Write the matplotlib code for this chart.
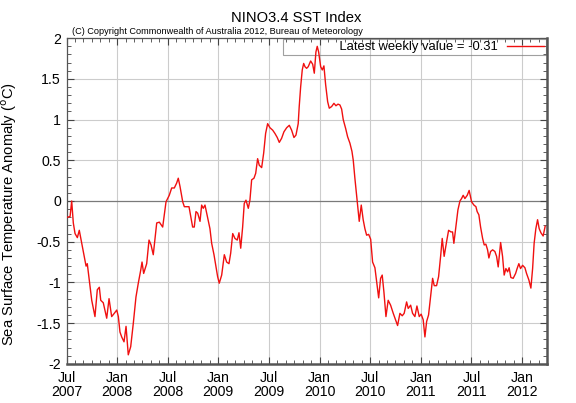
import matplotlib
matplotlib.use("Agg")
import matplotlib.pyplot as plt
from matplotlib.ticker import MultipleLocator, FixedLocator, FuncFormatter

plt.rcParams['font.family'] = ['Liberation Sans', 'DejaVu Sans']
plt.rcParams['axes.unicode_minus'] = False

# Time (decimal years) and weekly NINO3.4 SST anomaly (deg C)
t_year = [
    2007.508, 2007.535, 2007.551, 2007.567, 2007.584, 2007.607, 2007.626, 2007.650,
    2007.673, 2007.693, 2007.705, 2007.725, 2007.749, 2007.781, 2007.804, 2007.824,
    2007.838, 2007.863, 2007.897, 2007.920, 2007.946, 2007.972, 2007.996, 2008.012,
    2008.028, 2008.045, 2008.068, 2008.088, 2008.110, 2008.134, 2008.160, 2008.186,
    2008.209, 2008.233, 2008.246, 2008.262, 2008.292, 2008.315, 2008.335, 2008.357,
    2008.391, 2008.417, 2008.450, 2008.483, 2008.515, 2008.539, 2008.565, 2008.588,
    2008.604, 2008.621, 2008.648, 2008.664, 2008.687, 2008.710, 2008.727, 2008.746,
    2008.762, 2008.779, 2008.796, 2008.819, 2008.835, 2008.851, 2008.868, 2008.885,
    2008.917, 2008.934, 2008.957, 2008.977, 2008.993, 2009.009, 2009.033, 2009.059,
    2009.082, 2009.105, 2009.122, 2009.142, 2009.164, 2009.187, 2009.204, 2009.221,
    2009.240, 2009.256, 2009.273, 2009.296, 2009.312, 2009.329, 2009.352, 2009.369,
    2009.388, 2009.404, 2009.428, 2009.448, 2009.467, 2009.487, 2009.510, 2009.537,
    2009.559, 2009.582, 2009.602, 2009.625, 2009.648, 2009.675, 2009.701, 2009.724,
    2009.747, 2009.767, 2009.789, 2009.799, 2009.813, 2009.829, 2009.843, 2009.856,
    2009.872, 2009.888, 2009.912, 2009.932, 2009.948, 2009.964, 2009.977, 2009.991,
    2010.011, 2010.027, 2010.043, 2010.060, 2010.080, 2010.096, 2010.119, 2010.142,
    2010.162, 2010.182, 2010.201, 2010.218, 2010.234, 2010.258, 2010.277, 2010.300,
    2010.320, 2010.333, 2010.349, 2010.366, 2010.382, 2010.392, 2010.412, 2010.431,
    2010.448, 2010.465, 2010.485, 2010.505, 2010.524, 2010.547, 2010.564, 2010.584,
    2010.603, 2010.619, 2010.636, 2010.656, 2010.678, 2010.702, 2010.728, 2010.751,
    2010.771, 2010.794, 2010.817, 2010.836, 2010.860, 2010.876, 2010.900, 2010.919,
    2010.942, 2010.962, 2010.985, 2011.004, 2011.024, 2011.041, 2011.058, 2011.077,
    2011.097, 2011.117, 2011.133, 2011.156, 2011.176, 2011.196, 2011.212, 2011.231,
    2011.255, 2011.275, 2011.298, 2011.314, 2011.327, 2011.347, 2011.367, 2011.387,
    2011.403, 2011.419, 2011.436, 2011.459, 2011.478, 2011.502, 2011.525, 2011.545,
    2011.557, 2011.574, 2011.591, 2011.611, 2011.627, 2011.643, 2011.660, 2011.673,
    2011.690, 2011.710, 2011.732, 2011.749, 2011.765, 2011.789, 2011.808, 2011.824,
    2011.841, 2011.858, 2011.873, 2011.890, 2011.913, 2011.937, 2011.952, 2011.969,
    2011.986, 2012.006, 2012.029, 2012.045, 2012.068, 2012.088, 2012.105, 2012.120,
    2012.137, 2012.154, 2012.170, 2012.187, 2012.209, 2012.229,
]
anomaly = [
    -0.20, -0.19, 0.00, -0.27, -0.40, -0.45, -0.36, -0.52,
    -0.68, -0.80, -0.77, -0.97, -1.22, -1.42, -1.09, -1.06,
    -1.22, -1.25, -1.44, -1.20, -1.42, -1.38, -1.34, -1.42,
    -1.61, -1.67, -1.73, -1.54, -1.89, -1.79, -1.50, -1.18,
    -1.01, -0.85, -0.75, -0.89, -0.77, -0.48, -0.54, -0.66,
    -0.27, -0.26, -0.32, -0.01, 0.07, 0.16, 0.16, 0.22,
    0.28, 0.18, -0.01, -0.07, -0.07, -0.07, -0.19, -0.32,
    -0.32, -0.13, -0.15, -0.25, -0.05, -0.09, -0.05, -0.15,
    -0.34, -0.52, -0.66, -0.81, -0.93, -1.01, -0.91, -0.66,
    -0.75, -0.77, -0.64, -0.40, -0.46, -0.48, -0.39, -0.58,
    -0.32, -0.03, 0.01, -0.09, 0.01, 0.26, 0.28, 0.34,
    0.52, 0.44, 0.41, 0.59, 0.83, 0.95, 0.90, 0.87,
    0.83, 0.78, 0.72, 0.77, 0.85, 0.90, 0.93, 0.87,
    0.78, 0.81, 0.95, 1.16, 1.40, 1.61, 1.69, 1.65,
    1.63, 1.65, 1.72, 1.68, 1.57, 1.83, 1.90, 1.83,
    1.65, 1.61, 1.66, 1.43, 1.22, 1.14, 1.16, 1.20,
    1.17, 1.19, 1.18, 1.13, 1.00, 0.89, 0.79, 0.71,
    0.61, 0.50, 0.28, 0.07, -0.13, -0.25, -0.05, -0.23,
    -0.34, -0.42, -0.41, -0.47, -0.75, -0.82, -0.99, -1.19,
    -0.95, -0.91, -1.12, -1.42, -1.22, -1.28, -1.38, -1.46,
    -1.53, -1.38, -1.41, -1.38, -1.24, -1.32, -1.28, -1.38,
    -1.42, -1.29, -1.42, -1.39, -1.46, -1.67, -1.48, -1.40,
    -1.18, -0.95, -1.04, -1.04, -0.93, -0.68, -0.46, -0.68,
    -0.50, -0.36, -0.38, -0.38, -0.52, -0.32, -0.11, 0.00,
    0.03, 0.07, 0.03, 0.07, 0.13, -0.01, -0.05, -0.07,
    -0.13, -0.17, -0.32, -0.46, -0.54, -0.53, -0.60, -0.70,
    -0.62, -0.60, -0.62, -0.68, -0.81, -0.51, -0.68, -0.91,
    -0.83, -0.87, -0.82, -0.94, -0.95, -0.89, -0.83, -0.77,
    -0.83, -0.79, -0.82, -0.89, -0.97, -1.07, -0.83, -0.52,
    -0.34, -0.23, -0.34, -0.39, -0.43, -0.31,
]
x_tick_pos = [2007.5, 2008.0, 2008.5, 2009.0, 2009.5, 2010.0, 2010.5, 2011.0, 2011.5, 2012.0]
x_tick_labels = ["Jul\n2007", "Jan\n2008", "Jul\n2008", "Jan\n2009", "Jul\n2009",
                 "Jan\n2010", "Jul\n2010", "Jan\n2011", "Jul\n2011", "Jan\n2012"]
latest_value = -0.31

fig = plt.figure(figsize=(5.76, 4.03), dpi=100)
ax = fig.add_axes([0.1155, 0.0973, 0.8350, 0.8079])

ax.set_xlim(2007.5, 2012.252)
ax.set_ylim(-2, 2)

# grid
for xp in x_tick_pos[1:]:
    ax.axvline(xp, color='#cccccc', lw=0.8, zorder=1)
for yp in [-1.5, -1, -0.5, 0.5, 1, 1.5]:
    ax.axhline(yp, color='#cccccc', lw=0.8, zorder=1)
ax.axhline(0, color='#7a7a7a', lw=0.9, zorder=1)

ax.plot(t_year, anomaly, color='#f01010', lw=1.0, zorder=3,
        label=" " * 15 + f"Latest weekly value = {latest_value:.2f}")

ax.xaxis.set_major_locator(FixedLocator(x_tick_pos))
ax.set_xticklabels(x_tick_labels, linespacing=1.0)
ax.xaxis.set_minor_locator(MultipleLocator(1 / 12))
ax.yaxis.set_major_locator(MultipleLocator(0.5))
ax.yaxis.set_major_formatter(FuncFormatter(lambda v, p: f"{v:g}"))
ax.yaxis.set_minor_locator(MultipleLocator(0.1))

ax.tick_params(which='both', direction='in', top=True, right=True, colors='#444444',
               labelcolor='black')
ax.tick_params(which='major', length=5, width=0.8, labelsize=10.2, pad=4)
ax.tick_params(which='minor', length=3, width=0.6)
ax.tick_params(axis='x', which='major', pad=5.5)

for side in ['top', 'left']:
    ax.spines[side].set_color('#555555')
    ax.spines[side].set_linewidth(0.9)
for side in ['bottom', 'right']:
    ax.spines[side].set_color('#555555')
    ax.spines[side].set_linewidth(1.8)

ax.set_ylabel("Sea Surface Temperature Anomaly ($^{\\mathrm{o}}$C)", fontsize=10.6, labelpad=10)
ax.yaxis.set_label_coords(-0.098, 0.46)

fig.text(0.514, 0.955, "NINO3.4 SST Index", ha='center', va='center', fontsize=10.6)
fig.text(0.125, 0.923, "(C) Copyright Commonwealth of Australia 2012, Bureau of Meteorology",
         ha='left', va='center', fontsize=6.6)

leg = ax.legend(loc='upper right', markerfirst=False, frameon=True,
                prop={'size': 9.4},
                fancybox=False, borderpad=0.15, handlelength=2.9, borderaxespad=0.08,
                handletextpad=0.7)
leg.set_zorder(2)
leg.get_frame().set_facecolor('none')
leg.get_frame().set_edgecolor('#888888')
leg.get_frame().set_linewidth(0.8)

fig.savefig("out.png", dpi=100)
